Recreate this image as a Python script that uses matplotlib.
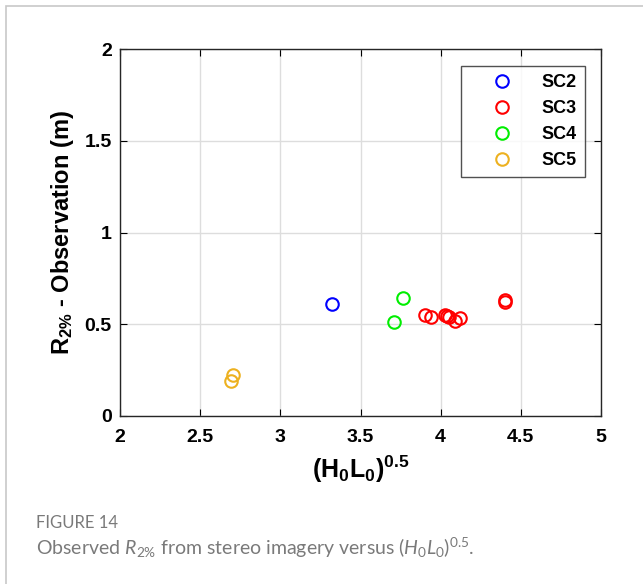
import matplotlib.pyplot as plt
from matplotlib.lines import Line2D
from matplotlib.patches import Rectangle

plt.rcParams['font.family'] = ['Liberation Sans', 'DejaVu Sans']
plt.rcParams['mathtext.fontset'] = 'custom'
plt.rcParams['mathtext.rm'] = 'Lato'
plt.rcParams['mathtext.bf'] = 'Liberation Sans:bold'
plt.rcParams['mathtext.it'] = 'Lato:italic'

# (H0 L0)^0.5 and observed R2% per site
sc2_x = [3.32]
sc2_y = [0.61]
sc3_x = [3.90, 3.94, 4.03, 4.04, 4.05, 4.09, 4.12, 4.40, 4.40]
sc3_y = [0.55, 0.54, 0.55, 0.545, 0.54, 0.517, 0.532, 0.63, 0.62]
sc4_x = [3.765, 3.71]
sc4_y = [0.643, 0.512]
sc5_x = [2.707, 2.69]
sc5_y = [0.223, 0.19]

series = [('SC2', sc2_x, sc2_y, '#0000ff'),
          ('SC3', sc3_x, sc3_y, '#ff0000'),
          ('SC4', sc4_x, sc4_y, '#00ee00'),
          ('SC5', sc5_x, sc5_y, '#edb120')]

xticks = [2, 2.5, 3, 3.5, 4, 4.5, 5]
yticks = [0, 0.5, 1, 1.5, 2]

fig = plt.figure(figsize=(6.43, 5.84), dpi=100)

# card outline
fig.add_artist(Rectangle((6 / 643, -0.1), 1.2, 1.1 - 6 / 584, transform=fig.transFigure,
                         fill=False, edgecolor='#c8c8c8', linewidth=1.2))

ax = fig.add_axes([120 / 643, 1 - 416 / 584, 481 / 643, 367 / 584])
for name, x, y, c in series:
    ax.plot(x, y, 'o', mfc='none', mec=c, ms=9, mew=1.5, linestyle='none')

ax.set_xlim(2, 5)
ax.set_ylim(0, 2)
ax.set_xticks(xticks)
ax.set_yticks(yticks)
ax.set_xticklabels([f'{t:g}' for t in xticks], fontsize=14, fontweight='bold')
ax.set_yticklabels([f'{t:g}' for t in yticks], fontsize=14, fontweight='bold')
ax.tick_params(axis='x', pad=9)
ax.tick_params(axis='y', pad=6)
ax.tick_params(direction='in', top=True, right=True, length=5, width=0.8)
ax.grid(True, color='#dddddd', linewidth=1)
ax.set_axisbelow(True)
for s in ax.spines.values():
    s.set_color('#262626')
    s.set_linewidth(1)

ax.set_xlabel(r'$\mathbf{(H_0L_0)^{0.5}}$', fontsize=18, labelpad=6)
ax.set_ylabel(r'$\mathbf{R_{2\%}}$ - Observation (m)', fontsize=17, fontweight='bold', labelpad=6)

handles = [Line2D([], [], marker='o', mfc='none', mec=c, ms=9, mew=1.5, linestyle='none')
           for _, _, _, c in series]
leg = ax.legend(handles, [s[0] for s in series], loc='upper right',
                bbox_to_anchor=(585 / 643, 1 - 66 / 584), bbox_transform=fig.transFigure,
                prop={'weight': 'bold', 'size': 13}, frameon=True, fancybox=False,
                handlelength=3.7, handletextpad=0.35, borderpad=0.45, labelspacing=0.5,
                borderaxespad=0)
leg.get_frame().set_edgecolor('#262626')
leg.get_frame().set_linewidth(1)

fig.text(36 / 643, 1 - 523 / 584, 'FIGURE 14', fontsize=12, color='#7a7a7a',
         family='Lato', va='center')
fig.text(36 / 643, 1 - 548 / 584,
         r'Observed $R_{2\%}$ from stereo imagery versus $(H_0L_0)^{0.5}$.',
         fontsize=14, color='#7a7a7a', family='Lato', va='center')

fig.savefig('out.png', dpi=100)
